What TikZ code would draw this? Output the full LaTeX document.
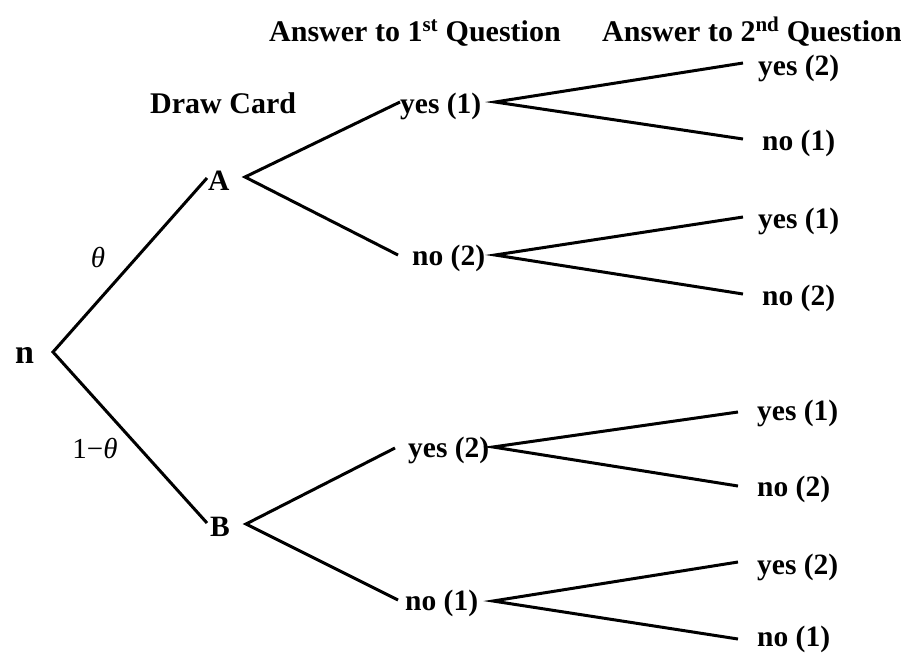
\documentclass[tikz,border=0pt]{standalone}
\usepackage{fontspec}
\setmainfont{Liberation Serif}
\begin{document}
\begin{tikzpicture}[x=1pt,y=-1pt,
  lbl/.style={font=\bfseries\fontsize{29.5}{31}\selectfont, inner sep=0pt, anchor=base west},
  hdr/.style={font=\bfseries\fontsize{30}{32}\selectfont, inner sep=0pt, anchor=base west},
  prob/.style={font=\fontsize{29}{31}\selectfont, inner sep=0pt, anchor=center},
  branch/.style={line width=3pt, line cap=butt, line join=miter}]
\useasboundingbox (0,0) rectangle (901,657);

% column headings
\node[hdr] (h1) at (269,41) {Answer to 1\textsuperscript{st} Question};
\node[hdr] (h2) at (602,41) {Answer to 2\textsuperscript{nd} Question};
\node[hdr] (hdraw) at (150,113) {Draw Card};

% root and card nodes
\node[lbl, font=\bfseries\fontsize{34}{36}\selectfont] (n) at (15,363) {n};
\node[lbl] (A) at (208,190) {A};
\node[lbl] (B) at (210,536) {B};

% first answers
\node[lbl] (a1y) at (400,113) {yes (1)};
\node[lbl] (a1n) at (412,265) {no (2)};
\node[lbl] (b1y) at (408,457) {yes (2)};
\node[lbl] (b1n) at (405,610) {no (1)};

% second answers
\node[lbl] (a1y2y) at (758,75) {yes (2)};
\node[lbl] (a1y2n) at (762,150) {no (1)};
\node[lbl] (a1n2y) at (758,228) {yes (1)};
\node[lbl] (a1n2n) at (762,305) {no (2)};
\node[lbl] (b1y2y) at (757,420) {yes (1)};
\node[lbl] (b1y2n) at (757,496) {no (2)};
\node[lbl] (b1n2y) at (757,574) {yes (2)};
\node[lbl] (b1n2n) at (757,646) {no (1)};

% branch probabilities
\node[prob] (pA) at (98,257) {\textit{θ}};
\node[prob] (pB) at (95,448) {1−\textit{θ}};

% branch end points
\coordinate (n-o) at (53,352);
\coordinate (A-i) at (207,178);
\coordinate (A-o) at (245,177);
\coordinate (B-i) at (207,523);
\coordinate (B-o) at (246,524);
\coordinate (a1y-i) at (400,102);
\coordinate (a1y-o) at (495,102);
\coordinate (a1n-i) at (398,255);
\coordinate (a1n-o) at (495,255);
\coordinate (b1y-i) at (395,448);
\coordinate (b1y-o) at (493,447);
\coordinate (b1n-i) at (398,600);
\coordinate (b1n-o) at (493,601);
\coordinate (a1y2y-i) at (743,63);
\coordinate (a1y2n-i) at (743,139);
\coordinate (a1n2y-i) at (743,217);
\coordinate (a1n2n-i) at (743,294);
\coordinate (b1y2y-i) at (738,412);
\coordinate (b1y2n-i) at (738,486);
\coordinate (b1n2y-i) at (738,562);
\coordinate (b1n2n-i) at (738,639);

% branches
\draw[branch] (A-i) -- (n-o) -- (B-i);
\draw[branch] (a1y-i) -- (A-o) -- (a1n-i);
\draw[branch] (b1y-i) -- (B-o) -- (b1n-i);
\draw[branch] (a1y2y-i) -- (a1y-o) -- (a1y2n-i);
\draw[branch] (a1n2y-i) -- (a1n-o) -- (a1n2n-i);
\draw[branch] (b1y2y-i) -- (b1y-o) -- (b1y2n-i);
\draw[branch] (b1n2y-i) -- (b1n-o) -- (b1n2n-i);
\end{tikzpicture}
\end{document}
